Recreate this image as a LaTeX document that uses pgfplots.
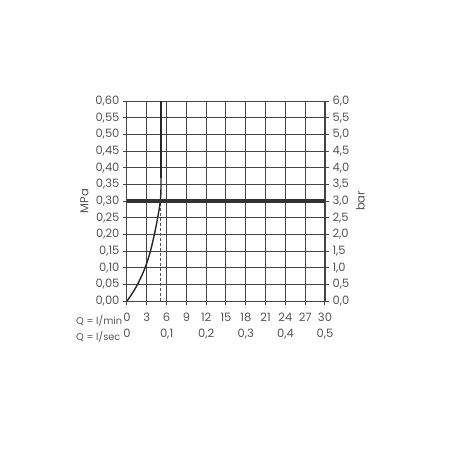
\documentclass[border=0pt]{standalone}
\usepackage{fontspec}
\setmainfont{Poppins}
\usepackage{pgfplots}
\pgfplotsset{compat=1.18}
\definecolor{txt}{HTML}{555555}
\definecolor{grd}{HTML}{444444}
\newcommand\lf{\fontsize{11.5}{16}\selectfont}
\begin{document}
\begin{tikzpicture}[font=\lf]
\begin{axis}[name=a, scale only axis, width=198pt, height=200pt,
  xmin=0, xmax=30, ymin=0, ymax=0.6,
  tick label style={font=\lf},
  label style={font=\lf},
  xtick={0,3,6,9,12,15,18,21,24,27,30},
  ytick={0,0.05,0.1,0.15,0.2,0.25,0.3,0.35,0.4,0.45,0.5,0.55,0.6},
  xticklabels={{0\\0},3,{6\\0,1},9,{12\\0,2},15,{18\\0,3},21,{24\\0,4},27,{30\\0,5}},
  xticklabel style={align=center, text=txt, yshift=-4.5pt},
  yticklabel style={text=txt, /pgf/number format/.cd, fixed, fixed zerofill, precision=2, use comma},
  /pgf/number format/assume math mode=true,
  grid=major, major grid style={grd, line width=1pt},
  axis line style={grd, line width=1pt},
  tick style={grd, line width=1pt}, tick align=outside, major tick length=4pt,
  xtick pos=bottom, ytick pos=left,
  ylabel={MPa}, ylabel style={text=txt},
]
\addplot[txt, line width=0.9pt, dash pattern=on 3pt off 2pt] coordinates {(5.05,0) (5.05,0.3)};
\addplot[black!85, line width=1.4pt, smooth, tension=0.6] coordinates {
 (0,0) (0.7,0.02) (1.6,0.05) (2.75,0.10) (3.55,0.15) (4.15,0.20) (4.65,0.25) (5.05,0.30) (5.15,0.34) (5.15,0.38)};
\addplot[black!85, line width=1.4pt] coordinates {(5.15,0.37) (5.15,0.6)};
\addplot[black!80, line width=3.5pt] coordinates {(0,0.3) (30,0.3)};
\end{axis}
\begin{axis}[scale only axis, width=198pt, height=200pt,
  xmin=0, xmax=30, ymin=0, ymax=6,
  tick label style={font=\lf},
  label style={font=\lf},
  axis x line=none, axis y line*=right,
  ytick={0,0.5,1,1.5,2,2.5,3,3.5,4,4.5,5,5.5,6},
  yticklabel style={text=txt, /pgf/number format/.cd, fixed, fixed zerofill, precision=1, use comma},
  /pgf/number format/assume math mode=true,
  axis line style={grd, line width=1pt},
  tick style={grd, line width=1pt}, tick align=outside, major tick length=4pt,
  ylabel={bar}, ylabel style={text=txt},
]
\end{axis}
\node[anchor=north west, align=left, text=txt, inner sep=0pt, font=\fontsize{9.8}{16}\selectfont] at ([xshift=-51pt, yshift=-14.5pt]a.south west) {Q = l/min\\Q = l/sec};
\path[use as bounding box] ([xshift=-127pt,yshift=-149pt]a.south west) rectangle ([xshift=125pt,yshift=101pt]a.north east);
\end{tikzpicture}
\end{document}
